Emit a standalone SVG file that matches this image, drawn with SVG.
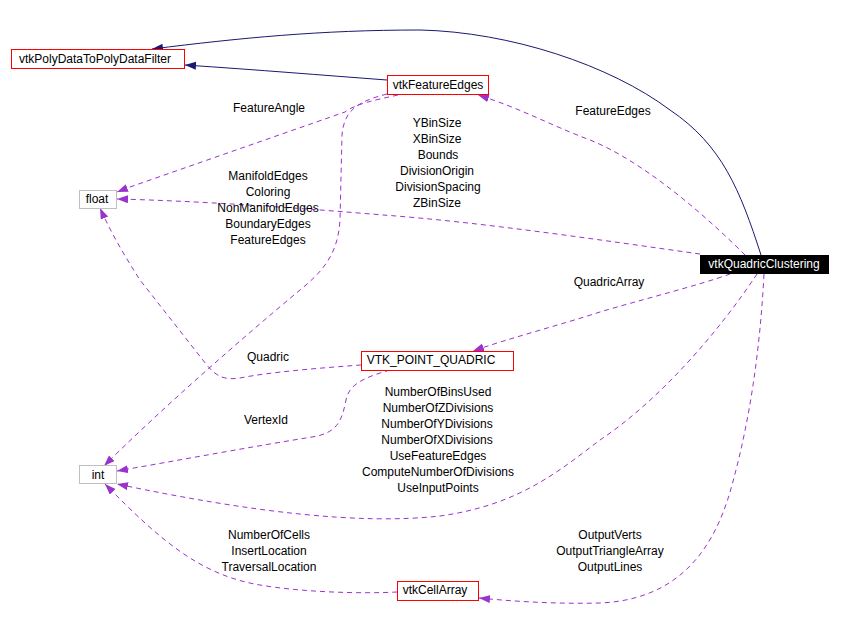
<svg xmlns="http://www.w3.org/2000/svg" width="842" height="617" viewBox="0 0 842 617">
<defs>
<style>
text{font-family:"Liberation Sans",Arial,sans-serif;font-size:12px;fill:#000}
.lbl{text-anchor:middle}
.box{fill:#fff;stroke:#ff0000;stroke-width:1}
.gbox{fill:#fff;stroke:#bfbfbf;stroke-width:1}
.inh{fill:none;stroke:#191970;stroke-width:1}
.use{fill:none;stroke:#9a32cd;stroke-width:1;stroke-dasharray:5,4}
</style>
<marker id="an" markerUnits="userSpaceOnUse" markerWidth="12" markerHeight="10" refX="11" refY="4" orient="auto">
<path d="M0,0 L11,4 L0,8 z" fill="#191970"/>
</marker>
<marker id="ap" markerUnits="userSpaceOnUse" markerWidth="12" markerHeight="10" refX="11" refY="4" orient="auto">
<path d="M0,0 L11,4 L0,8 z" fill="#9a32cd"/>
</marker>
</defs>
<rect width="842" height="617" fill="#fff"/>
<g id="connectors">
<path class="inh" d="M761,255 C740,190 722,145 670,110 C610,65 510,32 420,30 C320,30 240,38 152,49" marker-end="url(#an)"/>
<path class="inh" d="M387,80 C320,75 260,70 185,65" marker-end="url(#an)"/>
<path class="use" d="M745,255 C700,210 640,160 590,140 C550,125 520,108 478,95" marker-end="url(#ap)"/>
<path class="use" d="M398,95 C375,100 355,104 345,112 L130,187 L117,192" marker-end="url(#ap)"/>
<path class="use" d="M387,94 C355,102 344,112 342,135 L340,220 C338,255 322,272 300,290 C240,340 160,410 104,466" marker-end="url(#ap)"/>
<path class="use" d="M700,254 C600,240 480,222 383,215 C300,208 200,201 117,199" marker-end="url(#ap)"/>
<path class="use" d="M361,365 C320,368 270,372 240,378 C222,381 214,374 206,364 L140,280 C126,258 112,235 100,208" marker-end="url(#ap)"/>
<path class="use" d="M390,370 C362,378 349,385 346,400 C342,420 338,433 312,437 C250,447 180,460 117,471" marker-end="url(#ap)"/>
<path class="use" d="M730,274 C700,285 640,300 600,312 C560,325 510,338 473,351" marker-end="url(#ap)"/>
<path class="use" d="M757,274 C720,330 660,400 600,440 C560,470 520,505 440,516 C360,525 250,512 117,484" marker-end="url(#ap)"/>
<path class="use" d="M764,274 C760,350 750,420 732,485 C712,560 670,600 600,603 C560,604 520,602 479,598" marker-end="url(#ap)"/>
<path class="use" d="M397,592 C360,594 300,592 260,585 C200,575 160,540 105,484" marker-end="url(#ap)"/>
</g>
<g id="labels">
<text class="lbl" x="613" y="115">FeatureEdges</text>
<text class="lbl" x="269" y="112">FeatureAngle</text>
<text class="lbl" x="437" y="127">YBinSize</text>
<text class="lbl" x="437" y="143">XBinSize</text>
<text class="lbl" x="438" y="159">Bounds</text>
<text class="lbl" x="437" y="175">DivisionOrigin</text>
<text class="lbl" x="438" y="191">DivisionSpacing</text>
<text class="lbl" x="437" y="207">ZBinSize</text>
<text class="lbl" x="268" y="180">ManifoldEdges</text>
<text class="lbl" x="268" y="196">Coloring</text>
<text class="lbl" x="268" y="212">NonManifoldEdges</text>
<text class="lbl" x="268" y="228">BoundaryEdges</text>
<text class="lbl" x="268" y="244">FeatureEdges</text>
<text class="lbl" x="609" y="286">QuadricArray</text>
<text class="lbl" x="268" y="361">Quadric</text>
<text class="lbl" x="266" y="424">VertexId</text>
<text class="lbl" x="438" y="396">NumberOfBinsUsed</text>
<text class="lbl" x="438" y="412">NumberOfZDivisions</text>
<text class="lbl" x="437" y="428">NumberOfYDivisions</text>
<text class="lbl" x="437" y="444">NumberOfXDivisions</text>
<text class="lbl" x="438" y="460">UseFeatureEdges</text>
<text class="lbl" x="438" y="476">ComputeNumberOfDivisions</text>
<text class="lbl" x="438" y="492">UseInputPoints</text>
<text class="lbl" x="269" y="539">NumberOfCells</text>
<text class="lbl" x="269" y="555">InsertLocation</text>
<text class="lbl" x="269" y="571">TraversalLocation</text>
<text class="lbl" x="610" y="539">OutputVerts</text>
<text class="lbl" x="610" y="555">OutputTriangleArray</text>
<text class="lbl" x="610" y="571">OutputLines</text>
</g>
<g id="vtkPolyDataToPolyDataFilter">
<rect class="box" x="11.5" y="49.5" width="173" height="19"/>
<text class="lbl" x="95" y="63">vtkPolyDataToPolyDataFilter</text>
</g>
<g id="vtkFeatureEdges">
<rect class="box" x="387.5" y="75.5" width="101" height="19"/>
<text class="lbl" x="438" y="89">vtkFeatureEdges</text>
</g>
<g id="float">
<rect class="gbox" x="79.5" y="190.5" width="37" height="18"/>
<text class="lbl" x="97" y="203">float</text>
</g>
<g id="vtkQuadricClustering">
<rect x="700" y="255" width="129" height="19" fill="#000"/>
<text class="lbl" x="764" y="268" style="fill:#fff">vtkQuadricClustering</text>
</g>
<g id="VTK_POINT_QUADRIC">
<rect class="box" x="361.5" y="351.5" width="152" height="19"/>
<text class="lbl" x="431" y="364">VTK_POINT_QUADRIC</text>
</g>
<g id="int">
<rect class="gbox" x="79.5" y="465.5" width="37" height="18"/>
<text class="lbl" x="98" y="479">int</text>
</g>
<g id="vtkCellArray">
<rect class="box" x="397.5" y="581.5" width="81" height="19"/>
<text class="lbl" x="435" y="594">vtkCellArray</text>
</g>
</svg>
